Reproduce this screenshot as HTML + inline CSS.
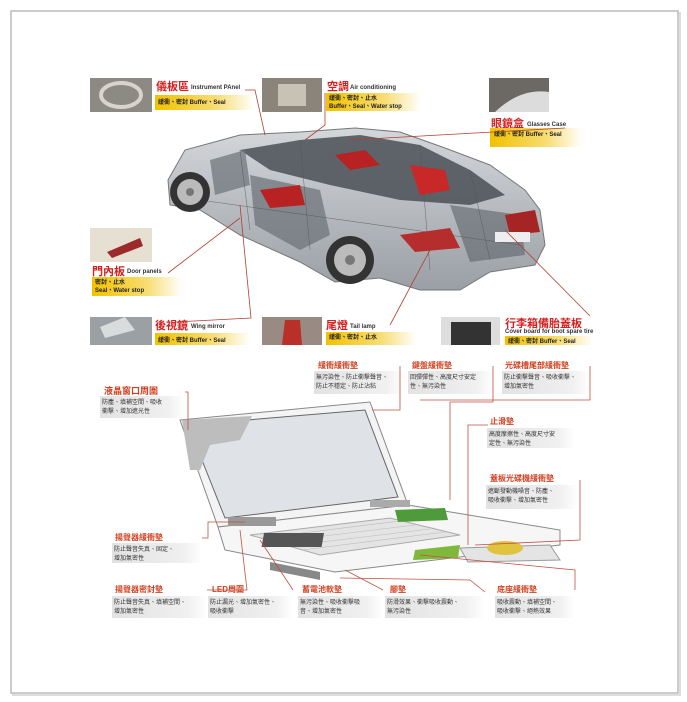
<!DOCTYPE html>
<html><head><meta charset="utf-8"><style>
html,body{margin:0;padding:0;background:#fff;}
body{width:687px;height:702px;position:relative;overflow:hidden;font-family:"Liberation Sans","Noto Sans CJK TC",sans-serif;}
</style></head><body>
<svg width="687" height="702" viewBox="0 0 687 702" xmlns="http://www.w3.org/2000/svg" style="position:absolute;left:0;top:0;font-family:'Liberation Sans','Noto Sans CJK TC',sans-serif">
<defs>
<linearGradient id="yel" x1="0" x2="1"><stop offset="0" stop-color="#f2c200"/><stop offset="0.6" stop-color="#f7dc70"/><stop offset="1" stop-color="#fff"/></linearGradient>
<linearGradient id="gry" x1="0" x2="1"><stop offset="0" stop-color="#e2e2e2"/><stop offset="0.8" stop-color="#f0f0f0"/><stop offset="1" stop-color="#fff"/></linearGradient>
<linearGradient id="body" x1="0" y1="0" x2="0" y2="1"><stop offset="0" stop-color="#d4d7da"/><stop offset="1" stop-color="#9a9fa5"/></linearGradient>
</defs>
<!-- frame -->
<rect x="13" y="13" width="667" height="682" fill="none" stroke="#ddd" stroke-width="2"/>
<rect x="11" y="11" width="667" height="682" fill="#fff" stroke="#bbb" stroke-width="1.5"/>

<!-- CAR -->
<rect x="90" y="78" width="62" height="34" fill="#8d8a84"/><ellipse cx="121" cy="95" rx="20" ry="12" fill="none" stroke="#d8d4cc" stroke-width="4"/>
<rect x="262" y="78" width="60" height="34" fill="#8a847a"/><rect x="278" y="84" width="28" height="22" fill="#c8c2b6"/>
<rect x="489" y="78" width="60" height="34" fill="#6c6864"/><path d="M495 112 Q520 88 549 92 L549 112Z" fill="#dcdcdc"/>
<rect x="90" y="228" width="62" height="34" fill="#e6e0d2"/><path d="M107 252 L140 238 L143 246 L112 258Z" fill="#9c2a2a"/>
<rect x="90" y="317" width="62" height="28" fill="#9aa0a4"/><path d="M100 327 L125 317 L135 330 L105 338Z" fill="#d8dcdc"/>
<rect x="262" y="317" width="60" height="28" fill="#9a8a84"/><path d="M285 320 L300 320 L302 345 L282 345Z" fill="#b83028"/>
<rect x="441" y="317" width="59" height="28" fill="#ddd"/><rect x="451" y="322" width="40" height="23" fill="#333"/>
<path d="M168 180 L185 150 L240 135 L300 132 L355 128 L400 132 L445 148 L490 165 L525 190 L540 210 L545 245 L535 265 L490 272 L460 290 L420 290 L380 278 L335 282 L300 262 L240 235 L200 210 L170 205Z" fill="url(#body)" stroke="#777" stroke-width="1"/>
<path d="M240 150 L300 140 L360 135 L420 145 L470 170 L505 195 L470 205 L400 200 L330 185 L270 170Z" fill="#4a5056" opacity="0.85"/>
<path d="M250 175 L320 190 L330 235 L300 250 L255 225Z" fill="#6a7076" opacity="0.7"/>
<path d="M450 205 L520 215 L525 255 L470 262Z" fill="#5c6268" opacity="0.6"/>
<path d="M210 160 L245 150 L250 185 L215 195Z" fill="#6c7278" opacity="0.7"/>
<g stroke="#555" stroke-width="0.6" fill="none" opacity="0.7">
<path d="M200 200 L520 245"/><path d="M240 150 L250 230"/><path d="M300 140 L310 250"/><path d="M420 145 L430 270"/><path d="M470 170 L490 260"/>
</g>
<path d="M335 155 L365 150 L380 165 L350 170Z" fill="#b82222"/>
<path d="M410 165 L445 170 L450 190 L420 195Z" fill="#c82828"/>
<path d="M260 190 L300 185 L305 205 L270 208Z" fill="#b82222"/>
<path d="M400 235 L450 228 L460 248 L415 252Z" fill="#b52d2d"/>
<path d="M505 215 L535 210 L540 232 L510 235Z" fill="#a52525"/>
<rect x="495" y="232" width="35" height="10" fill="#eee"/>
<circle cx="190" cy="192" r="20" fill="#333"/><circle cx="190" cy="192" r="13" fill="#bbb"/><circle cx="190" cy="192" r="4" fill="#777"/>
<circle cx="350" cy="260" r="24" fill="#333"/><circle cx="350" cy="260" r="16" fill="#bbb"/><circle cx="350" cy="260" r="5" fill="#777"/>
<g font-weight="bold">
<text x="156" y="90" font-size="11" fill="#d42020">儀板區</text><text x="191" y="89" font-size="6" fill="#333">Instrument PAnel</text>
<rect x="155" y="95" width="100" height="15" fill="url(#yel)"/><text x="158" y="104" font-size="6" fill="#222">緩衝、密封 Buffer、Seal</text>
<text x="327" y="90" font-size="11" fill="#d42020">空調</text><text x="350" y="89" font-size="6" fill="#333">Air conditioning</text>
<rect x="326" y="93" width="95" height="18" fill="url(#yel)"/><text x="329" y="100" font-size="6" fill="#222">緩衝、密封、止水</text><text x="329" y="108" font-size="6" fill="#222">Buffer、Seal、Water stop</text>
<text x="491" y="127" font-size="11" fill="#d42020">眼鏡盒</text><text x="527" y="126" font-size="6" fill="#333">Glasses Case</text>
<rect x="490" y="128" width="92" height="19" fill="url(#yel)"/><text x="494" y="136" font-size="6" fill="#222">緩衝、密封 Buffer、Seal</text>
<text x="92" y="275" font-size="11" fill="#d42020">門內板</text><text x="127" y="273" font-size="6" fill="#333">Door panels</text>
<rect x="92" y="277" width="90" height="19" fill="url(#yel)"/><text x="95" y="284" font-size="6" fill="#222">密封、止水</text><text x="95" y="292" font-size="6" fill="#222">Seal、Water stop</text>
<text x="155" y="329" font-size="11" fill="#d42020">後視鏡</text><text x="191" y="328" font-size="6" fill="#333">Wing mirror</text>
<rect x="155" y="333" width="95" height="12" fill="url(#yel)"/><text x="158" y="342" font-size="6" fill="#222">緩衝、密封 Buffer、Seal</text>
<text x="326" y="329" font-size="11" fill="#d42020">尾燈</text><text x="350" y="328" font-size="6" fill="#333">Tail lamp</text>
<rect x="326" y="332" width="90" height="13" fill="url(#yel)"/><text x="329" y="339" font-size="6" fill="#222">緩衝、密封、止水</text>
<text x="505" y="327" font-size="11" fill="#d42020">行李箱備胎蓋板</text><text x="505" y="333" font-size="6" fill="#333">Cover board for boot spare tire</text>
<rect x="505" y="336" width="88" height="9" fill="url(#yel)"/><text x="508" y="343" font-size="6" fill="#222">緩衝、密封 Buffer、Seal</text>
</g>
<g stroke="#b04030" stroke-width="0.8" fill="none">
<path d="M245 90 L255 90 L265 135"/><path d="M325 93 L325 125 L305 140"/><path d="M565 128 L350 140"/>
<path d="M168 273 L240 218"/><path d="M175 322 L251 318 L240 205"/><path d="M390 325 L430 250"/><path d="M590 316 L505 230"/>
</g>

<!-- LAPTOP -->
<path d="M180 420 L370 402 L408 505 L218 527Z" fill="#f4f4f4" stroke="#888"/>
<path d="M188 425 L365 410 L398 497 L225 518Z" fill="#dfe2e6" stroke="#666"/>
<path d="M182 420 L252 416 L240 440 L210 445 L200 470 L190 470Z" fill="#bdbdbd"/>
<path d="M218 527 L408 505 L560 530 L560 545 L335 572 L225 550Z" fill="#f6f6f6" stroke="#888"/>
<path d="M250 535 L390 518 L460 535 L320 555Z" fill="#e4e4e4" stroke="#aaa"/>
<g stroke="#bbb" stroke-width="0.6"><path d="M262 538 L400 521"/><path d="M275 542 L415 525"/><path d="M288 546 L430 529"/><path d="M302 550 L445 532"/></g>
<rect x="358" y="533" width="60" height="14" fill="#555" transform="skewX(-10)"/>
<path d="M395 510 L445 508 L448 520 L398 522Z" fill="#4f9a3a"/>
<path d="M415 550 L460 545 L458 558 L413 560Z" fill="#7fb83c"/>
<path d="M460 548 L550 545 L560 560 L468 562Z" fill="#e4e4e4" stroke="#999"/>
<ellipse cx="505" cy="548" rx="18" ry="7" fill="#e0c440"/>
<rect x="228" y="517" width="48" height="9" fill="#999"/><rect x="370" y="500" width="40" height="7" fill="#aaa"/>
<path d="M270 562 L320 572 L320 580 L270 570Z" fill="#888"/>
<g font-weight="bold" fill="#d04020">
<text x="104" y="394" font-size="9">液晶窗口周圍</text>
<text x="318" y="368" font-size="8">緩衝緩衝墊</text>
<text x="412" y="368" font-size="8">鍵盤緩衝墊</text>
<text x="505" y="368" font-size="8">光碟槽尾部緩衝墊</text>
<text x="490" y="424" font-size="8">止滑墊</text>
<text x="490" y="481" font-size="8">蓋板光碟機緩衝墊</text>
<text x="115" y="540" font-size="8">揚聲器緩衝墊</text>
<text x="115" y="592" font-size="8">揚聲器密封墊</text>
<text x="212" y="592" font-size="8">LED周圍</text>
<text x="302" y="592" font-size="8">蓄電池軟墊</text>
<text x="390" y="592" font-size="8">腳墊</text>
<text x="497" y="592" font-size="8">底座緩衝墊</text>
</g>
<g fill="url(#gry)">
<rect x="100" y="396" width="85" height="22"/><rect x="314" y="371" width="90" height="23"/><rect x="408" y="371" width="85" height="23"/><rect x="502" y="371" width="88" height="23"/>
<rect x="487" y="428" width="88" height="20"/><rect x="486" y="485" width="92" height="24"/>
<rect x="112" y="543" width="90" height="20"/><rect x="112" y="596" width="95" height="22"/><rect x="208" y="596" width="85" height="22"/>
<rect x="298" y="596" width="85" height="22"/><rect x="385" y="596" width="100" height="22"/><rect x="495" y="596" width="80" height="22"/>
</g>
<g font-size="6" fill="#333">
<text x="102" y="404">防塵、填補空間、吸收</text><text x="102" y="413">衝擊、增加遮光性</text>
<text x="316" y="379">無污染性、防止衝擊聲音、</text><text x="316" y="388">防止不穩定、防止沾粘</text>
<text x="410" y="379">回彈彈性、高度尺寸安定</text><text x="410" y="388">性、無污染性</text>
<text x="504" y="379">防止衝擊聲音、吸收衝擊、</text><text x="504" y="388">增加氣密性</text>
<text x="489" y="436">高度摩擦性、高度尺寸安</text><text x="489" y="445">定性、無污染性</text>
<text x="488" y="493">遮斷發動機噪音、防塵、</text><text x="488" y="502">吸收衝擊、增加氣密性</text>
<text x="114" y="551">防止聲音失真、固定、</text><text x="114" y="560">增加氣密性</text>
<text x="114" y="604">防止聲音失真、填補空間、</text><text x="114" y="613">增加氣密性</text>
<text x="210" y="604">防止漏光、增加氣密性、</text><text x="210" y="613">吸收衝擊</text>
<text x="300" y="604">無污染性、吸收衝擊吸</text><text x="300" y="613">音、增加氣密性</text>
<text x="387" y="604">防滑效果、衝擊吸收震動、</text><text x="387" y="613">無污染性</text>
<text x="497" y="604">吸收震動、填補空間、</text><text x="497" y="613">吸收衝擊、絕熱效果</text>
</g>
<g stroke="#c05040" stroke-width="0.8" fill="none">
<path d="M185 392 L188 392 L188 430"/><path d="M400 366 L400 410 L372 410"/><path d="M493 366 L493 402 L450 402 L450 500"/>
<path d="M590 366 L590 400 L420 400"/><path d="M488 425 L468 425 L468 545"/><path d="M580 480 L580 540 L475 545"/>
<path d="M202 538 L208 538 L208 522 L245 522"/><path d="M207 590 L247 590 L240 530"/><path d="M293 590 L260 540"/>
<path d="M383 590 L345 570"/><path d="M485 592 L470 580 L340 578"/><path d="M575 590 L575 570 L420 555"/>
</g>
</svg>
</body></html>
